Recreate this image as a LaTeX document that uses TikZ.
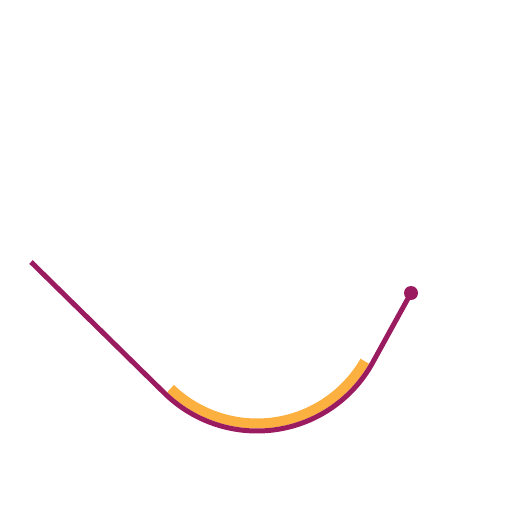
\documentclass[tikz,border=0pt]{standalone}
\usetikzlibrary{calc}
\definecolor{plum}{RGB}{155,27,96}
\definecolor{amber}{RGB}{251,176,64}
\tikzset{
  mainline/.style={draw=plum,line width=5pt,line join=round},
  highlight/.style={draw=amber,line width=10pt,line cap=butt},
  enddot/.style={circle,fill=plum,inner sep=0pt,minimum size=14pt}
}
\begin{document}
\begin{tikzpicture}[x=1pt,y=1pt]
\useasboundingbox (0,0) rectangle (512,512);
\coordinate (c) at (257,213);
\coordinate (s) at (31,250);
\coordinate (a) at ($(c)+(226:132)$);
\node[enddot] (e) at (411,219) {};
\draw[highlight] ($(c)+(226:124.5)$) arc[start angle=226,end angle=330,radius=124.5];
\draw[mainline] (s) -- (a) arc[start angle=226,end angle=330,radius=132] -- (e.center);
\end{tikzpicture}
\end{document}
